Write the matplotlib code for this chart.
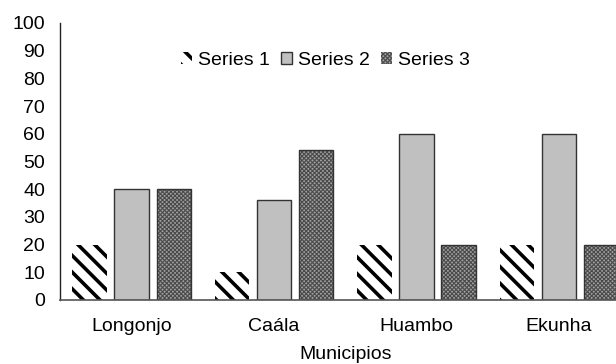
import matplotlib
matplotlib.use("Agg")
import matplotlib.pyplot as plt
import numpy as np

plt.rcParams['font.family'] = ['Liberation Sans', 'DejaVu Sans']
plt.rcParams['hatch.linewidth'] = 2.6

municipios = ["Longonjo", "Caála", "Huambo", "Ekunha"]
series1 = [20, 10, 20, 20]
series2 = [40, 36, 60, 60]
series3 = [40, 54, 20, 20]
yticks = list(range(0, 101, 10))

fig = plt.figure(figsize=(6.16, 3.64), dpi=100)
ax = fig.add_axes([0.098, 0.176, 0.925, 0.761])

x = np.arange(len(municipios))
w = 0.24
off = 0.295

ax.bar(x - off, series1, w, facecolor='white', edgecolor='black',
       hatch='\\\\', linewidth=0, label='Series 1')
ax.bar(x, series2, w, facecolor='#c0c0c0', edgecolor='#333333',
       linewidth=1.0, label='Series 2')
b3 = ax.bar(x + off, series3, w, facecolor='#a0a0a0', edgecolor='#4a4a4a',
            hatch='xxxxxxxx', linewidth=0, label='Series 3')
for p in b3.patches:
    try:
        p.set_hatch_linewidth(0.8)
    except AttributeError:
        pass
ax.bar(x + off, series3, w, facecolor='none', edgecolor='#333333', linewidth=1.0)

ax.set_xlim(-0.5, 3.5)
ax.set_ylim(0, 100)
ax.set_yticks(yticks)
ax.set_xticks(x)
ax.set_xticklabels(municipios)
ax.tick_params(axis='both', length=0, labelsize=14, colors='black')
ax.tick_params(axis='y', pad=11)
ax.tick_params(axis='x', pad=13)
for s in ['top', 'right']:
    ax.spines[s].set_visible(False)
ax.spines['left'].set_color('#222222')
ax.spines['bottom'].set_color('#555555')
ax.spines['left'].set_linewidth(1.0)
ax.spines['bottom'].set_linewidth(1.2)

ax.set_xlabel('Municipios', fontsize=14, labelpad=8)

leg = ax.legend(loc='upper center', bbox_to_anchor=(0.465, 0.96), ncol=3, frameon=False,
                fontsize=14, handlelength=0.6, handleheight=0.6, handletextpad=0.3,
                columnspacing=0.55)
for h in leg.legend_handles[2:]:
    try:
        h.set_hatch_linewidth(0.8)
    except AttributeError:
        pass

fig.savefig('out.png', dpi=100)
